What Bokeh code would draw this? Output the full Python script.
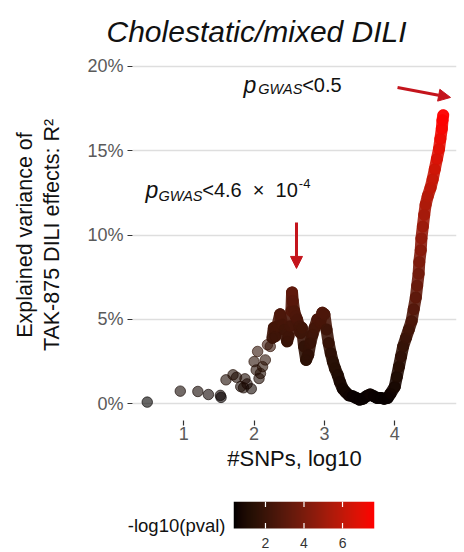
import numpy as np
from bokeh.plotting import figure
from bokeh.models import (ColumnDataSource, Range1d, FixedTicker, LinearColorMapper,
                          Label, Arrow, NormalHead, LinearAxis)
from bokeh.layouts import column
from bokeh.transform import transform
from bokeh.core.properties import value
from bokeh.embed import file_html
from bokeh.resources import INLINE

# ---------------- data ----------------
log10_snps = [0.48, 0.95, 1.20, 1.35, 1.52, 1.53, 1.60, 1.70, 1.75, 1.81, 1.85, 1.87, 1.90, 1.96,
              2.00, 2.03, 2.05, 2.07, 2.09, 2.12, 2.16, 2.19, 2.23,
              2.26, 2.28, 2.30, 2.33, 2.37, 2.40, 2.43, 2.47, 2.49, 2.51,
              2.53, 2.54, 2.55, 2.57, 2.59, 2.61, 2.64, 2.66, 2.68, 2.71,
              2.74, 2.77, 2.80, 2.83, 2.86, 2.90, 2.94, 2.97, 3.00, 3.03,
              3.06, 3.09, 3.12, 3.15, 3.19, 3.22, 3.26, 3.30, 3.35, 3.40,
              3.45, 3.50, 3.55, 3.60, 3.65, 3.70, 3.75, 3.80, 3.85, 3.90, 3.94,
              4.00, 4.03, 4.06, 4.09, 4.12, 4.16, 4.20, 4.24, 4.27, 4.30,
              4.32, 4.34, 4.35, 4.37, 4.38, 4.40, 4.42, 4.44, 4.47, 4.51,
              4.54, 4.57, 4.60, 4.63, 4.65, 4.67, 4.68, 4.69]
r2_pct = [0.10, 0.75, 0.73, 0.55, 0.50, 0.38, 1.42, 1.72, 1.57, 1.02, 0.95, 1.48, 1.18, 0.89,
          2.5, 2.0, 3.1, 1.5, 1.8, 2.2, 2.6, 3.5, 3.4,
          3.9, 4.5, 4.0, 4.6, 5.3, 4.7, 4.4, 3.7, 4.0, 4.6,
          5.5, 6.6, 6.1, 5.5, 5.2, 5.0, 4.6, 4.2, 4.5, 3.4,
          2.6, 2.9, 3.6, 4.1, 4.5, 5.0, 4.8, 5.4, 5.3, 4.4,
          3.6, 3.0, 2.5, 2.1, 1.7, 1.3, 0.9, 0.7, 0.5, 0.45,
          0.35, 0.25, 0.3, 0.45, 0.55, 0.45, 0.35, 0.35, 0.3, 0.35, 0.6,
          1.0, 1.6, 2.2, 2.8, 3.4, 3.9, 4.4, 4.9, 5.6, 6.3,
          7.0, 7.7, 8.4, 9.1, 9.8, 10.5, 11.2, 11.8, 12.3, 12.8,
          13.3, 13.9, 14.5, 15.1, 15.7, 16.3, 16.8, 17.1]
neg_log10_p = [0.4, 0.7, 0.7, 0.6, 0.6, 0.5, 1.0, 1.1, 1.0, 0.8, 0.8, 1.0, 0.9, 0.7,
               1.4, 1.2, 1.7, 1.0, 1.1, 1.3, 1.5, 1.9, 1.8,
               2.0, 2.3, 2.1, 2.3, 2.6, 2.4, 2.2, 1.9, 2.1, 2.3,
               2.7, 3.2, 3.0, 2.7, 2.6, 2.5, 2.3, 2.2, 2.3, 1.8,
               1.5, 1.6, 1.9, 2.1, 2.3, 2.5, 2.4, 2.7, 2.6, 2.2,
               1.9, 1.6, 1.4, 1.3, 1.1, 0.9, 0.7, 0.7, 0.6, 0.5,
               0.5, 0.5, 0.5, 0.5, 0.6, 0.5, 0.5, 0.5, 0.5, 0.5, 0.6,
               0.8, 1.0, 1.3, 1.6, 1.8, 2.0, 2.2, 2.5, 2.8, 3.1,
               3.4, 3.7, 4.0, 4.3, 4.6, 4.9, 5.2, 5.4, 5.6, 5.9,
               6.1, 6.3, 6.6, 6.8, 7.1, 7.4, 7.6, 7.6]
dense_start = 23          # from here on the points form a continuous band
x_ticks = [1, 2, 3, 4]
y_ticks = [0, 5, 10, 15, 20]
y_tick_labels = ["0%", "5%", "10%", "15%", "20%"]
cb_low, cb_high = 0.34, 7.66
cb_ticks = [2, 4, 6]
cb_tick_labels = ["2", "4", "6"]

FONT = "Liberation Sans"
ARROW_RED = "#c4141c"
TXT = "#111111"

# ---------------- black -> red gradient interpolated in CIELAB ----------------
_M = np.array([[0.4124564, 0.3575761, 0.1804375],
               [0.2126729, 0.7151522, 0.0721750],
               [0.0193339, 0.1191920, 0.9503041]])
_Minv = np.linalg.inv(_M)
_WN = np.array([0.95047, 1.0, 1.08883])
_EPS = 216 / 24389
_K = 24389 / 27


def _lin(c):
    return c / 12.92 if c <= 0.04045 else ((c + 0.055) / 1.055) ** 2.4


def _gam(c):
    return 12.92 * c if c <= 0.0031308 else 1.055 * c ** (1 / 2.4) - 0.055


def _f(t):
    return t ** (1 / 3) if t > _EPS else (_K * t + 16) / 116


def _finv(t):
    return t ** 3 if t ** 3 > _EPS else (116 * t - 16) / _K


def rgb2lab(rgb):
    xyz = _M @ np.array([_lin(c) for c in rgb]) / _WN
    fx, fy, fz = (_f(v) for v in xyz)
    return np.array([116 * fy - 16, 500 * (fx - fy), 200 * (fy - fz)])


def lab2hex(lab):
    L, a, b = lab
    fy = (L + 16) / 116
    fx = fy + a / 500
    fz = fy - b / 200
    xyz = np.array([_finv(fx), _finv(fy), _finv(fz)]) * _WN
    lin = _Minv @ xyz
    rgb = [min(1.0, max(0.0, _gam(max(0.0, c)))) for c in lin]
    return "#%02x%02x%02x" % tuple(int(round(255 * c)) for c in rgb)


lab_lo, lab_hi = rgb2lab((0, 0, 0)), rgb2lab((1, 0, 0))
palette = [lab2hex(lab_lo + (lab_hi - lab_lo) * t) for t in np.linspace(0, 1, 256)]
mapper = LinearColorMapper(palette=palette, low=cb_low, high=cb_high)

# ---------------- main plot ----------------
p = figure(width=464, height=482, output_backend="svg", toolbar_location=None,
           x_range=Range1d(0.2703, 4.879), y_range=Range1d(-0.989, 20.99),
           min_border_left=132, min_border_right=8, min_border_top=49, min_border_bottom=62)
p.frame_align = False
p.outline_line_color = None
p.background_fill_color = "white"
p.border_fill_color = "white"
p.xgrid.visible = False
p.ygrid.ticker = FixedTicker(ticks=y_ticks)
p.ygrid.grid_line_color = "#dedede"
p.ygrid.grid_line_width = 1.3

p.title.text = "Cholestatic/mixed DILI"
p.title.align = "left"
p.title.offset = -26
p.title.standoff = 4
p.title.text_font = FONT
p.title.text_font_style = "italic"
p.title.text_font_size = "30px"
p.title.text_color = TXT

p.xaxis.ticker = FixedTicker(ticks=x_ticks)
p.yaxis.ticker = FixedTicker(ticks=y_ticks)
p.yaxis.major_label_overrides = {t: s for t, s in zip(y_ticks, y_tick_labels)}
for ax in (p.xaxis, p.yaxis):
    ax.axis_line_color = None
    ax.major_tick_line_color = "#333333"
    ax.major_tick_line_width = 1.2
    ax.major_tick_in = 0
    ax.major_tick_out = 5
    ax.minor_tick_line_color = None
    ax.major_label_text_font = FONT
    ax.major_label_text_font_size = "18px"
    ax.major_label_text_color = "#5a5a5a"
    ax.axis_label_text_font = FONT
    ax.axis_label_text_font_style = "normal"
    ax.axis_label_text_color = TXT
p.yaxis.major_label_standoff = 4
p.xaxis.major_label_standoff = 1
p.xaxis.axis_label = "#SNPs, log10"
p.xaxis.axis_label_text_font_size = "22px"
p.xaxis.axis_label_standoff = 3
p.yaxis.axis_label = "TAK-875 DILI effects: R²"
p.yaxis.axis_label_text_font_size = "21.5px"
p.yaxis.axis_label_standoff = 20

outer = LinearAxis(ticker=FixedTicker(ticks=[]), axis_label="Explained variance of",
                   axis_line_color=None, major_tick_line_color=None, minor_tick_line_color=None,
                   axis_label_text_font=FONT, axis_label_text_font_size="21.5px",
                   axis_label_text_font_style="normal", axis_label_text_color=TXT,
                   axis_label_standoff=1)
p.add_layout(outer, "left")

src = ColumnDataSource(dict(x=log10_snps, y=r2_pct, nlp=neg_log10_p))
xs, ys, cs = log10_snps[dense_start:], r2_pct[dense_start:], neg_log10_p[dense_start:]
seg = ColumnDataSource(dict(x0=xs[:-1], x1=xs[1:], y0=ys[:-1], y1=ys[1:],
                            nlp=[(a + b) / 2 for a, b in zip(cs[:-1], cs[1:])]))
p.segment("x0", "y0", "x1", "y1", source=seg, line_color=transform("nlp", mapper),
          line_width=12, line_alpha=0.9, line_cap="round")
p.scatter("x", "y", source=src, size=10.5, fill_color=transform("nlp", mapper),
          line_color=transform("nlp", mapper), fill_alpha=0.6, line_alpha=0.65, line_width=1)


def lab(x, y, text, size, italic=False):
    p.add_layout(Label(x=x, y=y, text=text, text_font=FONT, text_font_size=size,
                       text_font_style="italic" if italic else "normal", text_color=TXT,
                       text_align="left", text_baseline="alphabetic"))


lab(1.85, 18.86, "p", "23px", True)
lab(2.06, 18.66, "GWAS", "14.5px", True)
lab(2.684, 18.86, "<0.5", "20px")
lab(0.455, 12.64, "p", "23px", True)
lab(0.64, 12.34, "GWAS", "14.5px", True)
lab(1.262, 12.64, "<4.6\u00a0 × \u00a010", "20px")
lab(2.636, 13.03, "-4", "13px")

for xs0, ys0, xe, ye in [(4.04, 18.74, 4.794, 18.15), (2.603, 10.74, 2.603, 8.02)]:
    p.add_layout(Arrow(end=NormalHead(size=12, fill_color=ARROW_RED, line_color=ARROW_RED),
                       x_start=xs0, y_start=ys0, x_end=xe, y_end=ye,
                       line_color=ARROW_RED, line_width=3))

# ---------------- colour bar ----------------
cb_bottom = 1 - 47 / 27
cb = figure(width=464, height=70, output_backend="svg", toolbar_location=None,
            x_range=Range1d(cb_low, cb_high), y_range=Range1d(cb_bottom, 1), x_axis_location=None,
            min_border_left=233, min_border_right=90, min_border_top=19, min_border_bottom=4)
cb.frame_align = False
cb.outline_line_color = None
cb.grid.visible = False
cb.image(image=[np.linspace(cb_low, cb_high, 256).reshape(1, 256)], x=cb_low, y=0,
         dw=cb_high - cb_low, dh=1, color_mapper=mapper)
n = len(cb_ticks)
cb.segment(x0=cb_ticks, y0=[0] * n, x1=cb_ticks, y1=[0.2] * n, line_color="white", line_width=1.2)
cb.segment(x0=cb_ticks, y0=[1] * n, x1=cb_ticks, y1=[0.8] * n, line_color="white", line_width=1.2)
cb.text(x=cb_ticks, y=[-0.52] * n, text=cb_tick_labels, text_font=value(FONT),
        text_font_size=value("14px"), text_color="#333333", text_align="center",
        text_baseline="middle")
cb.yaxis.ticker = FixedTicker(ticks=[])
cb.yaxis.axis_line_color = None
cb.yaxis.major_tick_line_color = None
cb.yaxis.minor_tick_line_color = None
cb.yaxis.axis_label = "-log10(pval)"
cb.yaxis.axis_label_orientation = "horizontal"
cb.yaxis.axis_label_standoff = 8
cb.yaxis.axis_label_text_font = FONT
cb.yaxis.axis_label_text_font_size = "18.5px"
cb.yaxis.axis_label_text_font_style = "normal"
cb.yaxis.axis_label_text_color = TXT

layout = column(p, cb, spacing=0)
open("out.html", "w").write(file_html(layout, INLINE))
